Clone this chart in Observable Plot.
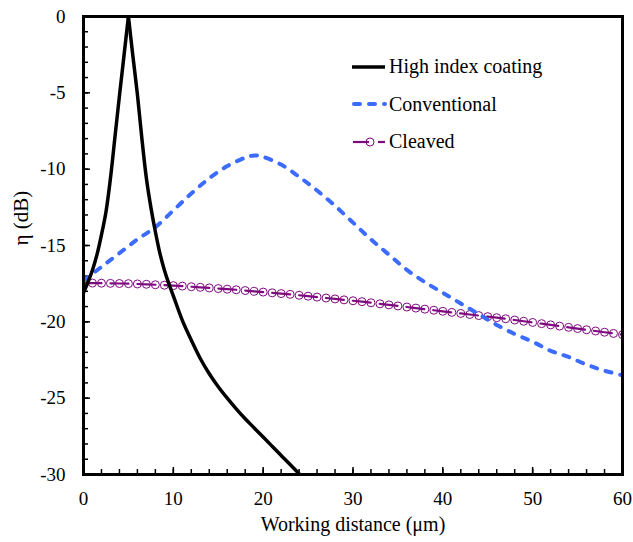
<!DOCTYPE html>
<html>
<head>
<meta charset="utf-8">
<script src="https://cdn.jsdelivr.net/npm/d3@7"></script>
<script src="https://cdn.jsdelivr.net/npm/@observablehq/plot@0.6"></script>
<style>
  html, body { margin: 0; padding: 0; background: #fff; }
  #wrap { position: relative; width: 633px; height: 542px; font-family: "Liberation Serif", "Times New Roman", Times, "DejaVu Serif", serif; }
  #legend { position: absolute; left: 350px; top: 48px; font-size: 20px; color: #000; font-family: "Liberation Serif", "Times New Roman", Times, "DejaVu Serif", serif; }
  #legend .row { display: flex; align-items: center; height: 37.5px; }
  #legend svg { display: block; margin-right: 2px; }
  #chart svg text { font-family: "Liberation Serif", "Times New Roman", Times, "DejaVu Serif", serif; }
</style>
</head>
<body>
<div id="wrap"><div id="chart"></div><div id="legend"></div></div>
<script>
// ---- data ----
// High index coating: rising branch (to the peak) and falling branch (from the peak)
const hiRiseX = [0, 0.5, 1, 1.5, 2, 2.5, 3, 3.5, 4, 4.5, 5];
const hiRiseY = [-18.1, -17.4, -16.6, -15.6, -14.3, -12.8, -10.6, -7.9, -5.2, -2.6, 0];
const hiFallX = [5, 5.5, 6, 6.5, 7, 7.5, 8, 8.5, 9, 9.5, 10, 11, 12, 13, 14, 15, 16, 17, 18, 19, 20, 21, 22, 23, 24];
const hiFallY = [0, -2.6, -5.1, -8.0, -10.6, -12.5, -14.1, -15.5, -16.6, -17.5, -18.3, -19.9, -21.2, -22.4, -23.4, -24.25, -25.0, -25.7, -26.35, -26.95, -27.55, -28.15, -28.75, -29.35, -29.95];

const convX = [0, 2, 4, 6, 8, 10, 12, 14, 16, 18, 19, 20, 22, 24, 26, 28, 30, 32, 34, 36, 38, 40, 42, 44, 46, 48, 50, 52, 54, 56, 58, 60];
const convY = [-17.3, -16.4, -15.5, -14.6, -13.8, -12.7, -11.6, -10.6, -9.8, -9.25, -9.1, -9.2, -9.7, -10.5, -11.4, -12.4, -13.5, -14.6, -15.6, -16.6, -17.4, -18.1, -18.8, -19.5, -20.2, -20.8, -21.3, -21.9, -22.3, -22.8, -23.2, -23.5];

const cleavedX = [0,1,2,3,4,5,6,7,8,9,10,11,12,13,14,15,16,17,18,19,20,21,22,23,24,25,26,27,28,29,30,31,32,33,34,35,36,37,38,39,40,41,42,43,44,45,46,47,48,49,50,51,52,53,54,55,56,57,58,59,60];
const cleavedY = [-17.45,-17.46,-17.47,-17.48,-17.49,-17.50,-17.52,-17.54,-17.57,-17.60,-17.63,-17.66,-17.70,-17.74,-17.78,-17.82,-17.86,-17.90,-17.95,-18.00,-18.05,-18.10,-18.15,-18.20,-18.26,-18.32,-18.38,-18.44,-18.50,-18.56,-18.62,-18.68,-18.75,-18.82,-18.89,-18.96,-19.03,-19.10,-19.17,-19.24,-19.31,-19.38,-19.45,-19.52,-19.59,-19.66,-19.73,-19.80,-19.88,-19.96,-20.04,-20.12,-20.20,-20.28,-20.36,-20.44,-20.52,-20.60,-20.68,-20.76,-20.84];

const xMajor = [0, 10, 20, 30, 40, 50, 60];
const xMinor = d3.range(0, 61, 2);
const yMajor = [0, -5, -10, -15, -20, -25, -30];
const yMinor = d3.range(-30, 1, 1);

const seriesNames = ["High index coating", "Conventional", "Cleaved"];
const xLabel = "Working distance (μm)";
const yLabel = "η (dB)";

// ---- tables ----
const hi = [
  ...hiRiseX.map((x, i) => ({x, y: hiRiseY[i], b: "rise"})),
  ...hiFallX.map((x, i) => ({x, y: hiFallY[i], b: "fall"}))
];
const conv = convX.map((x, i) => ({x, y: convY[i]}));
const cleaved = cleavedX.map((x, i) => ({x, y: cleavedY[i]}));

const W = 633, H = 542, mL = 83, mR = 11, mT = 16, mB = 68;
const innerW = W - mL - mR, innerH = H - mT - mB;
const black = "#000", blue = "#3b6cff", purple = "#7f0a80";
const serif = '"Liberation Serif", "Times New Roman", Times, "DejaVu Serif", serif';

const chart = Plot.plot({
  width: W, height: H,
  marginLeft: mL, marginRight: mR, marginTop: mT, marginBottom: mB,
  style: {fontFamily: serif, fontSize: "19px", color: "#000", background: "#fff"},
  x: {domain: [0, 60]},
  y: {domain: [-30, 0]},
  marks: [
    Plot.axisX({ticks: xMajor, tickSize: 0, tickPadding: 17, label: null, fontSize: 19}),
    Plot.axisY({ticks: yMajor, tickSize: 0, tickPadding: 18, label: null, fontSize: 19, tickFormat: d => d}),
    Plot.tickX(xMinor, {x: d => d, insetTop: innerH - 5, stroke: black, strokeWidth: 1.5}),
    Plot.tickX(xMajor, {x: d => d, insetTop: innerH - 7, stroke: black, strokeWidth: 1.5}),
    Plot.tickY(yMinor, {y: d => d, insetRight: innerW - 5, stroke: black, strokeWidth: 1.5}),
    Plot.tickY(yMajor, {y: d => d, insetRight: innerW - 7, stroke: black, strokeWidth: 1.5}),
    Plot.line(cleaved, {x: "x", y: "y", stroke: purple, strokeWidth: 2.2, strokeDasharray: "18,9", clip: true}),
    Plot.dot(cleaved, {x: "x", y: "y", r: 4, stroke: purple, strokeWidth: 1, fill: "none", clip: true}),
    Plot.line(conv, {x: "x", y: "y", stroke: blue, strokeWidth: 4, strokeDasharray: "6,9", strokeLinecap: "round", curve: "catmull-rom", clip: true}),
    Plot.line(hi, {x: "x", y: "y", z: "b", stroke: black, strokeWidth: 3.5, curve: "catmull-rom", clip: true}),
    Plot.frame({stroke: black, strokeWidth: 3}),
    Plot.text([xLabel], {frameAnchor: "bottom", dy: 56, fontSize: 20, fill: black}),
    Plot.text([yLabel], {frameAnchor: "left", dx: -62, rotate: -90, fontSize: 21, fill: black})
  ]
});
document.getElementById("chart").appendChild(chart);

// ---- legend ----
const legend = document.getElementById("legend");
const samples = [
  `<line x1="2" y1="10" x2="35" y2="10" stroke="${black}" stroke-width="3.5"/>`,
  `<line x1="4" y1="10" x2="35" y2="10" stroke="${blue}" stroke-width="4" stroke-dasharray="6,9" stroke-linecap="round"/>`,
  `<line x1="3" y1="10" x2="19" y2="10" stroke="${purple}" stroke-width="2.2"/><line x1="28" y1="10" x2="35" y2="10" stroke="${purple}" stroke-width="2.2"/><circle cx="20" cy="10" r="4" fill="none" stroke="${purple}" stroke-width="1"/>`
];
seriesNames.forEach((name, i) => {
  const row = document.createElement("div");
  row.className = "row";
  row.innerHTML = `<svg width="37" height="20">${samples[i]}</svg><span>${name}</span>`;
  legend.appendChild(row);
});
</script>
</body>
</html>
